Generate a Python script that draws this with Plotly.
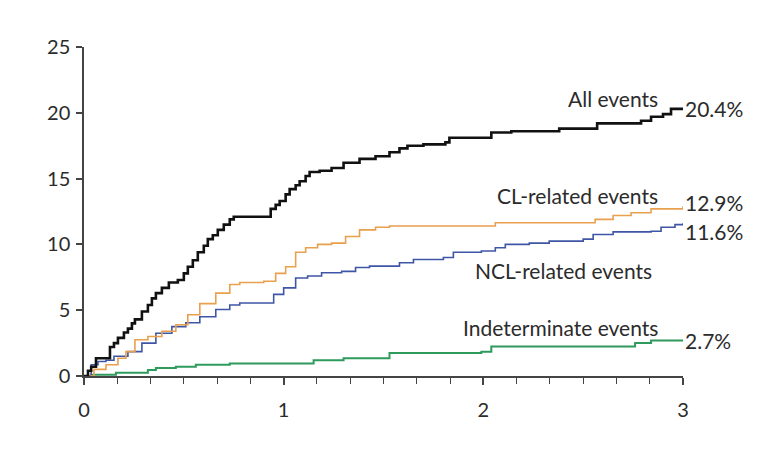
import plotly.graph_objects as go

# Years of follow-up and cumulative incidence (%)
all_x = [0, 0.02, 0.036, 0.06, 0.11, 0.13, 0.15, 0.17, 0.20, 0.22, 0.24, 0.255, 0.29, 0.32, 0.34, 0.36, 0.39, 0.425, 0.47, 0.50, 0.52, 0.545, 0.57, 0.60, 0.62, 0.645, 0.67, 0.70, 0.73, 0.75, 0.9, 0.935, 0.96, 0.98, 1.01, 1.03, 1.06, 1.08, 1.11, 1.13, 1.18, 1.24, 1.30, 1.38, 1.46, 1.53, 1.58, 1.62, 1.70, 1.81, 1.83, 2.04, 2.14, 2.38, 2.57, 2.79, 2.84, 2.90, 2.94, 3.0]
all_y = [0, 0.4, 0.7, 1.35, 1.35, 2.2, 2.5, 2.9, 3.3, 3.6, 4.0, 4.3, 4.9, 5.4, 5.9, 6.3, 6.7, 7.1, 7.3, 7.8, 8.3, 8.8, 9.4, 9.9, 10.4, 10.7, 11.1, 11.5, 11.9, 12.1, 12.1, 12.7, 13.0, 13.3, 13.8, 14.2, 14.5, 14.8, 15.2, 15.5, 15.6, 15.8, 16.2, 16.5, 16.7, 17.0, 17.3, 17.5, 17.6, 17.75, 18.1, 18.5, 18.6, 18.8, 19.2, 19.4, 19.7, 19.9, 20.3, 20.4]

cl_x = [0, 0.05, 0.11, 0.17, 0.21, 0.255, 0.32, 0.39, 0.46, 0.52, 0.58, 0.66, 0.73, 0.78, 0.90, 0.96, 1.01, 1.06, 1.11, 1.17, 1.24, 1.31, 1.38, 1.46, 1.53, 2.06, 2.56, 2.65, 2.74, 2.84, 3.0]
cl_y = [0, 0.5, 0.85, 1.35, 1.85, 2.75, 3.0, 3.4, 3.9, 4.65, 5.5, 6.3, 6.95, 7.1, 7.2, 7.8, 8.3, 9.4, 9.75, 10.0, 10.1, 10.6, 11.1, 11.3, 11.4, 11.65, 11.9, 12.2, 12.4, 12.7, 12.9]

ncl_x = [0, 0.036, 0.07, 0.11, 0.15, 0.22, 0.29, 0.36, 0.44, 0.51, 0.58, 0.66, 0.73, 0.78, 0.95, 1.0, 1.06, 1.12, 1.19, 1.29, 1.36, 1.43, 1.58, 1.65, 1.80, 1.85, 1.99, 2.06, 2.11, 2.23, 2.33, 2.50, 2.55, 2.65, 2.84, 2.89, 2.96, 3.0]
ncl_y = [0, 0.85, 1.1, 1.2, 1.5, 1.85, 2.5, 3.25, 3.75, 4.05, 4.5, 5.05, 5.4, 5.55, 6.2, 6.7, 7.45, 7.6, 7.85, 7.95, 8.25, 8.35, 8.6, 8.85, 9.0, 9.4, 9.5, 9.75, 10.0, 10.1, 10.25, 10.4, 10.75, 10.95, 11.0, 11.3, 11.5, 11.6]

ind_x = [0, 0.036, 0.16, 0.32, 0.36, 0.46, 0.56, 0.73, 1.15, 1.30, 1.53, 1.99, 2.04, 2.76, 2.84, 3.0]
ind_y = [0, 0.1, 0.25, 0.45, 0.6, 0.7, 0.85, 0.95, 1.2, 1.35, 1.75, 1.85, 2.25, 2.5, 2.7, 2.7]

series_names = ["All events", "CL-related events", "NCL-related events", "Indeterminate events"]
end_labels = ["20.4%", "12.9%", "11.6%", "2.7%"]

FONT = "Lato"
TXT = "#2b2b2b"

fig = go.Figure()
styles = [
    (ind_x, ind_y, "#2e9a5c", 2),
    (ncl_x, ncl_y, "#3f56a6", 1.6),
    (cl_x, cl_y, "#e9a04e", 1.6),
    (all_x, all_y, "#111111", 2.6),
]
names_order = [series_names[3], series_names[2], series_names[1], series_names[0]]
for (xs, ys, col, w), nm in zip(styles, names_order):
    fig.add_trace(go.Scatter(x=xs, y=ys, mode="lines", line=dict(color=col, width=w, shape="hv"),
                             name=nm, showlegend=False, cliponaxis=False, hoverinfo="skip"))

# Curve labels (right-aligned, just left of x=3)
label_pos = [(2.885, 21.1), (2.885, 13.75), (2.855, 8.05), (2.885, 3.7)]
for nm, (lx, ly) in zip(series_names, label_pos):
    fig.add_annotation(x=lx, y=ly, text=nm, showarrow=False, xanchor="right", yanchor="middle",
                       font=dict(family=FONT, size=21, color=TXT))

end_pos = [20.35, 13.15, 10.95, 2.73]
for lab, ly in zip(end_labels, end_pos):
    fig.add_annotation(x=3, y=ly, text=lab, showarrow=False, xanchor="left", yanchor="middle",
                       xshift=0, font=dict(family=FONT, size=21, color=TXT))

fig.update_layout(
    width=763, height=456,
    margin=dict(l=76, r=88, t=39, b=88),
    paper_bgcolor="white", plot_bgcolor="white",
    font=dict(family=FONT, size=20, color=TXT),
    xaxis=dict(range=[0, 3], tickvals=[0, 1, 2, 3], showgrid=False, zeroline=False,
               showline=True, linecolor="#444", linewidth=1.5,
               ticks="outside", ticklen=7, tickwidth=1.5, tickcolor="#444",
               ticklabelstandoff=8,
               minor=dict(dtick=1/6, tick0=0, ticks="outside", ticklen=6, tickwidth=1.3, tickcolor="#444"),
               tickfont=dict(family=FONT, size=20, color=TXT)),
    yaxis=dict(range=[0, 25], tickvals=[0, 5, 10, 15, 20, 25], showgrid=False, zeroline=False,
               showline=True, linecolor="#444", linewidth=1.5,
               ticks="outside", ticklen=6, tickwidth=1.5, tickcolor="#444",
               ticklabelstandoff=2,
               tickfont=dict(family=FONT, size=20, color=TXT)),
)

fig.write_html("out.html")
